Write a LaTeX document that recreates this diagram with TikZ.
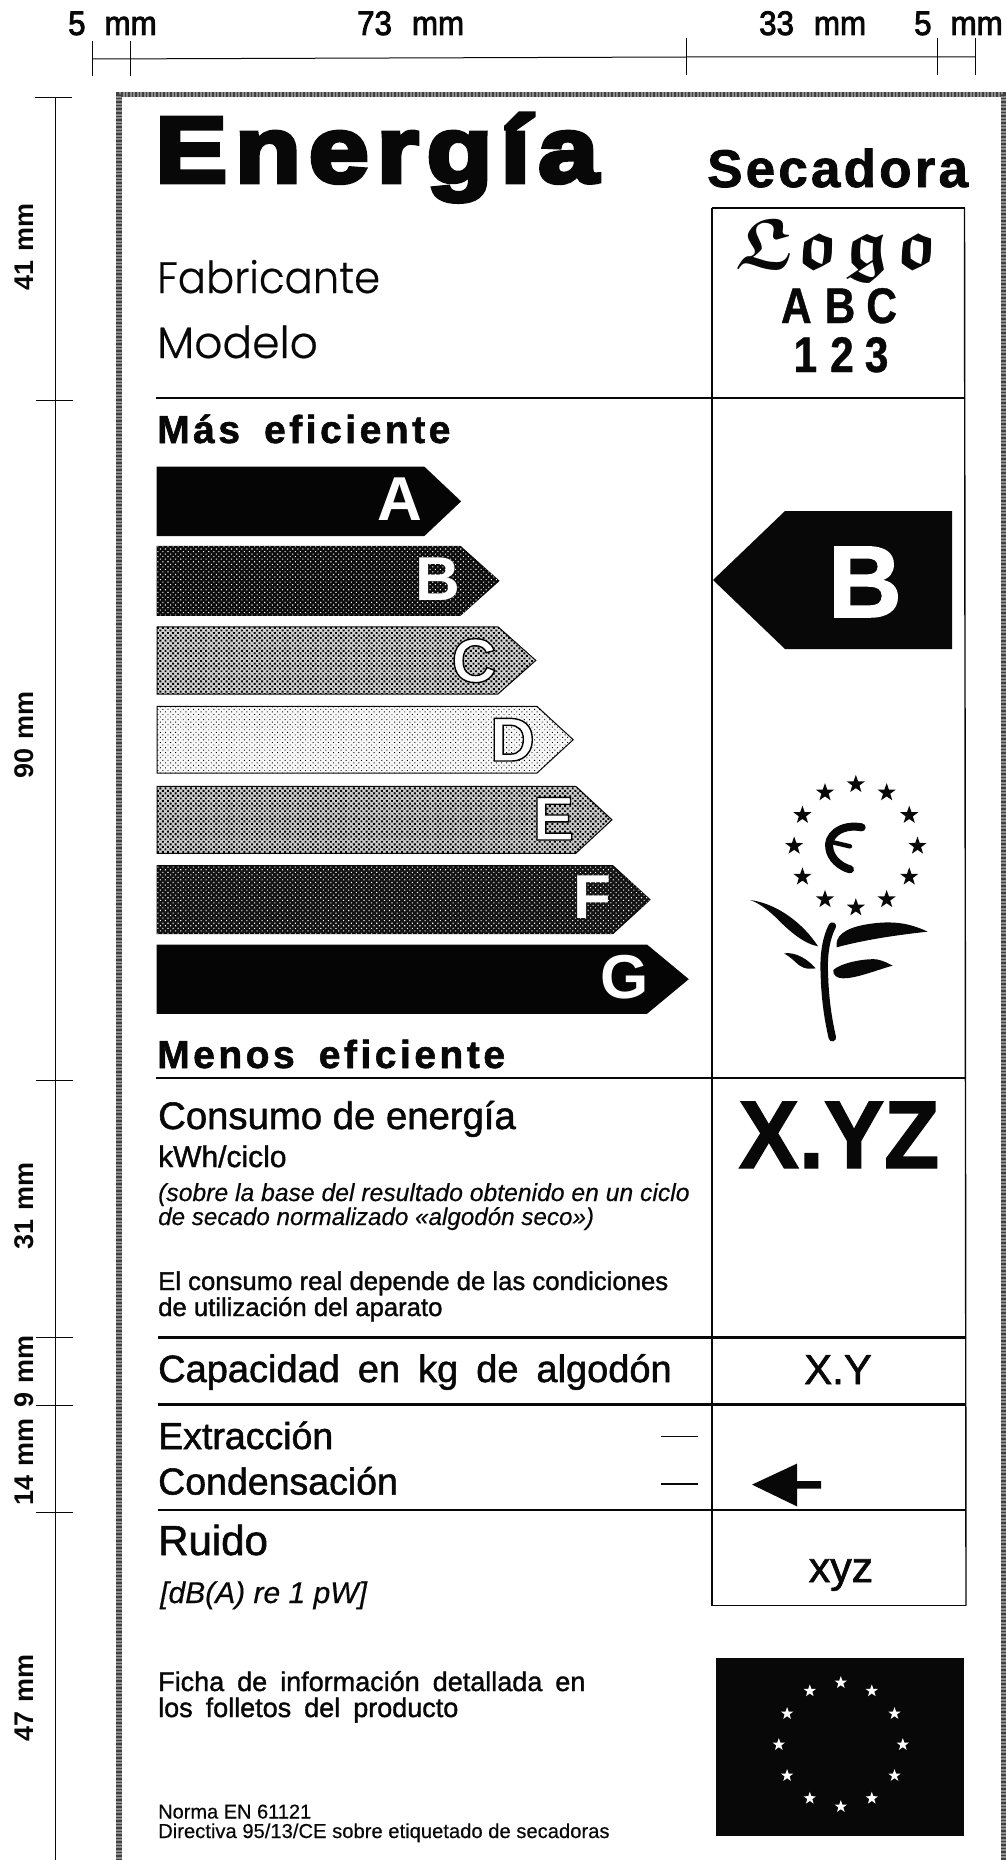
\documentclass[tikz,border=0pt]{standalone}
\usepackage{fontspec}
\usetikzlibrary{shapes.geometric,patterns.meta}
\setmainfont{Liberation Sans}
\newfontfamily\lsreg{Liberation Sans}[FakeBold=0.5]
\newfontfamily\lsmed{Liberation Sans}[FakeBold=1.4]
\newfontfamily\lslab{Liberation Sans}[FakeBold=2.5,FakeStretch=0.92]
\newfontfamily\lsbold{Liberation Sans Bold}
\newfontfamily\lsnarrow{Liberation Sans Bold}[FakeBold=0.8,FakeStretch=0.85]
\newfontfamily\lsxyz{Liberation Sans Bold}[FakeBold=1.5,FakeStretch=0.94]
\newfontfamily\lsbigb{Liberation Sans Bold}[FakeBold=1.5]
\newfontfamily\lsital{Liberation Sans Italic}[FakeBold=0.5]
\newfontfamily\lsheavy{Liberation Sans Bold}[FakeBold=5,FakeStretch=1.16,LetterSpace=8.5]
\newfontfamily\lsspaced{Liberation Sans Bold}[FakeBold=1.5,LetterSpace=9]
\newfontfamily\lssec{Liberation Sans Bold}[FakeBold=1.5,LetterSpace=6]
\newfontfamily\poplight{Poppins Light}[FakeBold=0.5]
\font\frakbold=eufb10 at 72pt
\newcommand{\fsz}[1]{\fontsize{#1}{#1}\selectfont}
\newcommand{\outl}[1]{\color{white}\special{pdf:code 0 0 0 RG 2 Tr 1.4 w}#1\special{pdf:code 0 Tr}}
\definecolor{lblack}{gray}{0.03}
\tikzset{
  x=1pt,y=-1pt,
  txt/.style={inner sep=0pt,anchor=base west,text=lblack},
  ctr/.style={inner sep=0pt,anchor=base,text=lblack},
  dim/.style={line width=1pt,draw=lblack},
  rule/.style={line width=1.4pt,draw=lblack},
  thick rule/.style={line width=2.6pt,draw=lblack},
  bar/.style={line width=1pt,draw=lblack},
  barl/.style={inner sep=0pt,anchor=base,text=white,font=\lsbold\fsz{62}},
  fstar/.style={star,star points=5,star point ratio=2.5,fill=lblack,draw=none,inner sep=0pt,minimum size=19pt},
  wstar/.style={star,star points=5,star point ratio=2.5,fill=white,draw=none,inner sep=0pt,minimum size=13pt},
  nopat/.style={},
  dotsdark/.style={pattern={Dots[distance=3.6pt,radius=0.75pt,angle=45]},pattern color=white},
  dotsmid/.style={pattern={Dots[distance=3.6pt,radius=1.35pt,angle=45]},pattern color=black},
  dotslight/.style={pattern={Dots[distance=3.6pt,radius=0.65pt,angle=45]},pattern color=black},
}
\begin{document}
\begin{tikzpicture}
\useasboundingbox (0,0) rectangle (1006,1860);
% border
\draw[line width=5.5pt,draw=black!45] (119,1860)--(119,94.5)--(1003.5,94.5)--(1003.5,1860);
\draw[line width=5.5pt,draw=black!75,dash pattern=on 1.5pt off 2pt] (119,1860)--(119,94.5)--(1003.5,94.5)--(1003.5,1860);
% top dimensions
\draw[dim] (92.4,59)--(686.5,57)--(975.9,57);
\draw[dim] (92.4,41)--(92.4,76);
\draw[dim] (130.2,41)--(130.2,76);
\draw[dim] (686.5,38)--(686.5,75);
\draw[dim] (937.4,38)--(937.4,75);
\draw[dim] (975.9,38)--(975.9,75);
\node[txt,font=\lslab\fsz{34}] (d1) at (68,35) {5\hspace{19pt}mm};
\node[txt,font=\lslab\fsz{34}] (d2) at (357,35) {73\hspace{20pt}mm};
\node[txt,font=\lslab\fsz{34}] (d3) at (759,35) {33\hspace{20pt}mm};
\node[txt,font=\lslab\fsz{34}] (d4) at (914,35) {5\hspace{19pt}mm};
% left dimensions
\draw[dim] (55,97)--(55,1860);
\foreach \yy/\xa/\xb in {97/35/72,400/36/73,1080/36/73,1337/36/73,1405.5/36/73,1512.5/36/73}
  \draw[dim] (\xa,\yy)--(\xb,\yy);
\foreach \nm/\yy/\lab in {v1/247/41,v2/735/90,v3/1206/31,v4/1371/9,v5/1462/14,v6/1698/47}
  \node[inner sep=0pt,anchor=base,rotate=90,text=lblack,font=\lsbold\fsz{27}] (\nm) at (33,\yy) {\lab\hspace{9pt}mm};
% header
\node[txt,font=\lsheavy\fsz{93}] (energia) at (155,182) {Energía};
\node[txt,font=\lssec\fsz{53}] (secadora) at (707,187) {Secadora};
\node[txt,font=\poplight\fsz{44}] (fabricante) at (157,293) {\scalebox{0.95}[1]{Fabricante}};
\node[txt,font=\poplight\fsz{44}] (modelo) at (157,358) {Modelo};
% logo column lines
\draw[rule] (712,208)--(964.5,208);
\draw[rule] (712,208)--(712,1605.5);
\draw[rule] (964.5,208)--(966,1605.5);
\draw[rule] (712,1605.5)--(966,1605.5);
\node[ctr,text=lblack] (logo) at (837,268) {\frakbold L\kern4pt o\kern6pt g\kern6pt o};
\node[ctr,font=\lsnarrow\fsz{50}] (abc) at (839,323) {A\hspace{13pt}B\hspace{11pt}C};
\node[ctr,font=\lsnarrow\fsz{50}] (ott) at (841,372) {1\hspace{13pt}2\hspace{11pt}3};
% rules
\draw[thick rule] (156,398)--(964.5,398);
\draw[thick rule] (156,1078)--(964.5,1078);
\draw[thick rule] (158,1337.5)--(965,1337.5);
\draw[thick rule] (158,1404.5)--(965,1404.5);
\draw[rule] (158,1510)--(965,1510);
% efficiency
\node[txt,font=\lsspaced\fsz{39}] (mas) at (157,443) {Más\hspace{24pt}eficiente};
\node[txt,font=\lsspaced\fsz{39}] (menos) at (157,1068) {Menos\hspace{24pt}eficiente};
% bars
\foreach \nm/\ya/\yb/\sh/\tip/\gr/\pat in {
  a/467/535.7/424/460.4/0.02/nopat,
  b/546.4/615.3/460.4/498.9/0.05/dotsdark,
  c/626.8/694/498/535.8/0.82/dotsmid,
  d/706.4/773/537/573.2/0.97/dotslight,
  e/786.3/853.3/575.8/612/0.8/dotsmid,
  f/865.6/933.7/612.8/650/0.08/dotsdark,
  g/945/1013.3/646.8/688/0.02/nopat}{
  \definecolor{barcol}{gray}{\gr}
  \draw[bar,fill=barcol,postaction={\pat}] (157,\ya)--(\sh,\ya)--(\tip,{(\ya+\yb)/2})--(\sh,\yb)--(157,\yb)--cycle;
}
\node[barl] (la) at (400,520.4) {A};
\node[barl] (lb) at (438,600) {B};
\node[barl] (lc) at (474,682) {\outl{C}};
\node[barl] (ld) at (512.5,761) {\outl{D}};
\node[barl] (le) at (553.5,840) {\outl{E}};
\node[barl] (lf) at (592,918) {F};
\node[barl] (lg) at (625,998) {G};
% big arrow
\fill[lblack] (713,580)--(785,511)--(952,511)--(952,649)--(785,649)--cycle;
\node[inner sep=0pt,anchor=base,text=white,font=\lsbigb\fsz{102}] (bigb) at (865,617) {B};
% flower
\begin{scope}[shift={(680,740)},scale=1/3]
\foreach \i in {0,30,...,330}
  \node[fstar] (fs\i) at ({527.5+185*cos(\i)},{318+185*sin(\i)}) {};
\draw[line width=8pt,draw=lblack,line cap=round] (545,262) .. controls (480,250) and (440,290) .. (448,325) .. controls (452,355) and (480,380) .. (510,388);
\draw[line width=4.5pt,draw=lblack,line cap=round] (450,305)--(510,319);
\draw[line width=7.5pt,draw=lblack,line cap=round] (457,558) .. controls (440,590) and (430,640) .. (433,700) .. controls (435,780) and (445,840) .. (457,893);
\fill[lblack] (210,480) .. controls (290,490) and (370,550) .. (414,619) .. controls (370,610) and (330,575) .. (290,535) .. controls (270,515) and (240,490) .. (210,480)--cycle;
\fill[lblack] (470,622) .. controls (465,590) and (490,565) .. (560,553) .. controls (640,540) and (690,550) .. (743,575) .. controls (650,585) and (550,600) .. (470,622)--cycle;
\fill[lblack] (312,640) .. controls (350,635) and (385,660) .. (407,685) .. controls (375,690) and (360,680) .. (345,665) .. controls (335,655) and (325,648) .. (312,640)--cycle;
\fill[lblack] (460,690) .. controls (480,670) and (550,655) .. (590,658) .. controls (610,662) and (625,670) .. (638,677) .. controls (590,690) and (530,715) .. (490,715) .. controls (470,715) and (458,705) .. (460,690)--cycle;
\end{scope}
% consumption
\node[txt,font=\lsmed\fsz{38.3}] (cons) at (158,1129) {Consumo de energía};
\node[txt,font=\lsmed\fsz{30}] (kwh) at (158,1167) {kWh/ciclo};
\node[txt,font=\lsital\fsz{24.7}] (it1) at (158,1201) {(sobre la base del resultado obtenido en un ciclo};
\node[txt,font=\lsital\fsz{24.2}] (it2) at (158,1225) {de secado normalizado «algodón seco»)};
\node[txt,font=\lsmed\fsz{25.7}] (el1) at (158,1290) {El consumo real depende de las condiciones};
\node[txt,font=\lsmed\fsz{25.7}] (el2) at (158,1316) {de utilización del aparato};
\node[ctr,font=\lsxyz\fsz{96}] (xyz1) at (839,1168) {X.YZ};
\node[txt,font=\lsmed\fsz{38}] (cap) at (158,1382) {Capacidad\hspace{18pt}en\hspace{18pt}kg\hspace{18pt}de\hspace{18pt}algodón};
\node[ctr,font=\lsmed\fsz{42}] (xy) at (838,1384) {X.Y};
\node[txt,font=\lsmed\fsz{37.5}] (ext) at (158,1449) {Extracción};
\node[txt,font=\lsmed\fsz{37.5}] (cnd) at (158,1494.5) {Condensación};
\coordinate (dA) at (661,1436.4);
\coordinate (dB) at (698,1436.4);
\coordinate (dC) at (661,1484.3);
\coordinate (dD) at (698,1484.3);
\draw[dim,line width=1.8pt] (dA)--(dB);
\draw[dim,line width=1.8pt] (dC)--(dD);
\fill[lblack] (752,1484.6)--(797,1463.6)--(797,1481)--(821,1481)--(821,1488.5)--(797,1488.5)--(797,1506.4)--cycle;
\node[txt,font=\lsmed\fsz{42}] (ruido) at (158,1555) {Ruido};
\node[txt,font=\lsital\fsz{30}] (db) at (160,1603) {[dB(A) re 1 pW]};
\node[ctr,font=\lsmed\fsz{43}] (xyzs) at (841,1582) {xyz};
\node[txt,font=\lsmed\fsz{27}] (fi1) at (158,1691) {Ficha\hspace{13pt}de\hspace{13pt}información\hspace{13pt}detallada\hspace{13pt}en};
\node[txt,font=\lsmed\fsz{27}] (fi2) at (158,1717) {los\hspace{13pt}folletos\hspace{13pt}del\hspace{13pt}producto};
\node[txt,font=\lsreg\fsz{20}] (no1) at (158,1818.5) {Norma EN 61121};
\node[txt,font=\lsreg\fsz{20.2}] (no2) at (158,1838) {Directiva 95/13/CE sobre etiquetado de secadoras};
% flag
\fill[lblack] (716,1658) rectangle (964.3,1836.4);
\foreach \i in {0,30,...,330}
  \node[wstar] (ws\i) at ({840.8+62*cos(\i)},{1744.6+62*sin(\i)}) {};
\end{tikzpicture}
\end{document}
